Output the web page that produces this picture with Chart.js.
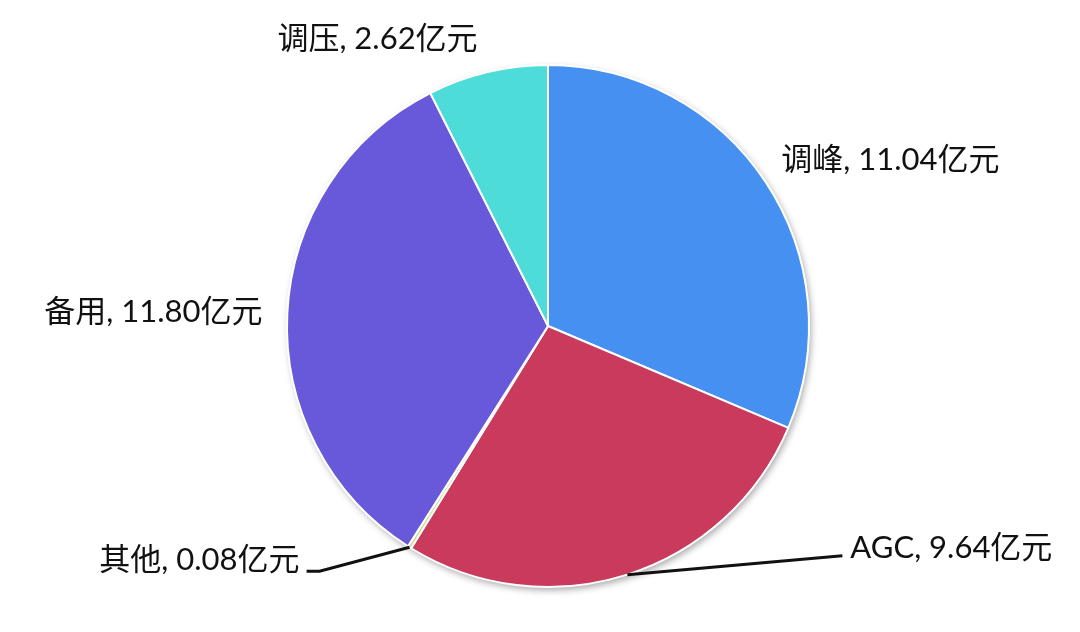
<!DOCTYPE html>
<html>
<head>
<meta charset="utf-8">
<script src="https://cdn.jsdelivr.net/npm/chart.js@4"></script>
<style>
  html, body { margin: 0; padding: 0; background: #fff; }
  #wrap { width: 1080px; height: 632px; position: relative; }
</style>
</head>
<body>
<div id="wrap"><canvas id="pieChart" width="1080" height="632"></canvas></div>
<script>
const categories = ['调峰', 'AGC', '其他', '备用', '调压'];
const amounts = [11.04, 9.64, 0.08, 11.80, 2.62];
const unit = '亿元';
const colors = ['#4590F1', '#C93A5D', '#C9D98A', '#6759D9', '#4DDCD8'];

const labelFont = "31px Lato, 'Noto Sans CJK SC', sans-serif";

// where each label goes, relative to its slice
const labelStyle = [
  { r: 1.095, align: 'left', dx: -5, dy: -8 },
  { leader: [[215, -19]], align: 'left', tx: 8, ty: -8 },
  { leader: [[-90, 24], [-103, 24]], align: 'right', tx: -7, ty: -11 },
  { r: 1.095, align: 'right', dx: 0, dy: 0 },
  { r: 1.13, align: 'right', dx: -2, dy: 0 }
];

const shadowPlugin = {
  id: 'pieShadow',
  beforeDatasetsDraw(chart) {
    const arc = chart.getDatasetMeta(0).data[0];
    if (!arc) return;
    const c = chart.ctx;
    c.save();
    c.shadowColor = 'rgba(0,0,0,0.35)';
    c.shadowBlur = 7;
    c.shadowOffsetX = 2;
    c.shadowOffsetY = 3;
    c.fillStyle = '#fff';
    c.beginPath();
    c.arc(arc.x, arc.y, arc.outerRadius, 0, Math.PI * 2);
    c.fill();
    c.restore();
  }
};

const labelPlugin = {
  id: 'sliceLabels',
  afterDraw(chart) {
    const c = chart.ctx;
    const arcs = chart.getDatasetMeta(0).data;
    c.save();
    c.font = labelFont;
    c.fillStyle = '#111';
    c.textBaseline = 'middle';
    arcs.forEach((arc, i) => {
      const st = labelStyle[i];
      const mid = (arc.startAngle + arc.endAngle) / 2;
      const text = categories[i] + ', ' + amounts[i].toFixed(2) + unit;
      c.textAlign = st.align;
      if (st.leader) {
        const ex = arc.x + Math.cos(mid) * arc.outerRadius;
        const ey = arc.y + Math.sin(mid) * arc.outerRadius;
        c.strokeStyle = '#111';
        c.lineWidth = 3;
        c.beginPath();
        c.moveTo(ex, ey);
        let lx = ex, ly = ey;
        st.leader.forEach(p => { lx = ex + p[0]; ly = ey + p[1]; c.lineTo(lx, ly); });
        c.stroke();
        c.fillText(text, lx + st.tx, ly + st.ty);
      } else {
        const x = arc.x + Math.cos(mid) * arc.outerRadius * st.r + st.dx;
        const y = arc.y + Math.sin(mid) * arc.outerRadius * st.r + st.dy;
        c.fillText(text, x, y);
      }
    });
    c.restore();
  }
};

new Chart(document.getElementById('pieChart'), {
  type: 'pie',
  data: {
    labels: categories,
    datasets: [{
      data: amounts,
      backgroundColor: colors,
      borderColor: '#fff',
      borderWidth: 2
    }]
  },
  options: {
    responsive: false,
    animation: false,
    devicePixelRatio: 1,
    layout: { padding: { left: 286, right: 270, top: 64, bottom: 44 } },
    plugins: {
      legend: { display: false },
      tooltip: { enabled: false }
    }
  },
  plugins: [shadowPlugin, labelPlugin]
});
</script>
</body>
</html>
